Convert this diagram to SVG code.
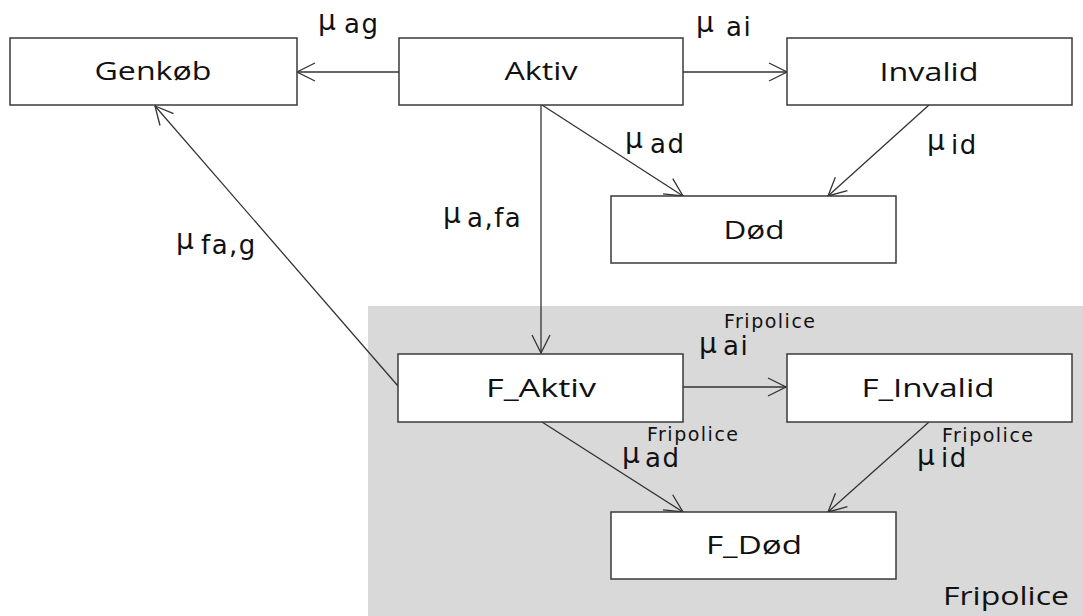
<svg xmlns="http://www.w3.org/2000/svg" width="1083" height="616" viewBox="0 0 1083 616">
<style>
.box{fill:#ffffff;stroke:#3a3a3a;stroke-width:1.5}
.lbl{font-family:"Open Sans","Liberation Sans",sans-serif;font-size:26px;fill:#111111;text-anchor:middle}
.corner{font-family:"Open Sans","Liberation Sans",sans-serif;font-size:26px;fill:#111111}
.rate{font-family:"DejaVu Sans","Liberation Sans",sans-serif;fill:#111111}
.m{font-size:28px}
.s{font-size:26px;letter-spacing:1.5px}
.p{font-size:19px;letter-spacing:1.5px}
.edge{fill:none;stroke:#333333;stroke-width:1.3;marker-end:url(#arr)}
</style>
<defs>
<marker id="arr" viewBox="0 0 20 20" refX="19" refY="10" markerWidth="20" markerHeight="20" markerUnits="userSpaceOnUse" orient="auto">
<path d="M1,1 L19,10 L1,19" fill="none" stroke="#333333" stroke-width="1.3"/>
</marker>
</defs>
<rect width="1083" height="616" fill="#ffffff"/>
<g id="fripolice-region">
<rect x="368" y="306" width="715" height="310" fill="#d9d9d9"/>
<text class="corner" x="943" y="605" textLength="126" lengthAdjust="spacingAndGlyphs">Fripolice</text>
</g>
<g id="connectors">
<path class="edge" d="M399,72 L297,72"/>
<path class="edge" d="M683,72 L787,72"/>
<path class="edge" d="M542,105 L683,196"/>
<path class="edge" d="M929,105 L828,196"/>
<path class="edge" d="M541,105 L541,353"/>
<path class="edge" d="M398,386 L155,106"/>
<path class="edge" d="M683,387 L786,387"/>
<path class="edge" d="M542,422 L683,512"/>
<path class="edge" d="M929,422 L828,512"/>
</g>
<g id="node-genkob">
<rect class="box" x="10" y="38" width="287" height="67"/>
<text class="lbl" x="153" y="80" textLength="117" lengthAdjust="spacingAndGlyphs">Genkøb</text>
</g>
<g id="node-aktiv">
<rect class="box" x="399" y="38" width="284" height="67"/>
<text class="lbl" x="541" y="80" textLength="73" lengthAdjust="spacingAndGlyphs">Aktiv</text>
</g>
<g id="node-invalid">
<rect class="box" x="787" y="38" width="285" height="67"/>
<text class="lbl" x="929" y="81" textLength="99" lengthAdjust="spacingAndGlyphs">Invalid</text>
</g>
<g id="node-dod">
<rect class="box" x="611" y="196" width="285" height="67"/>
<text class="lbl" x="754" y="239" textLength="61" lengthAdjust="spacingAndGlyphs">Død</text>
</g>
<g id="node-f-aktiv">
<rect class="box" x="398" y="354" width="285" height="68"/>
<text class="lbl" x="541" y="397" textLength="110" lengthAdjust="spacingAndGlyphs">F_Aktiv</text>
</g>
<g id="node-f-invalid">
<rect class="box" x="787" y="354" width="285" height="68"/>
<text class="lbl" x="928" y="397" textLength="133" lengthAdjust="spacingAndGlyphs">F_Invalid</text>
</g>
<g id="node-f-dod">
<rect class="box" x="611" y="512" width="285" height="67"/>
<text class="lbl" x="754" y="554" textLength="96" lengthAdjust="spacingAndGlyphs">F_Død</text>
</g>
<g id="labels">
<text class="rate"><tspan class="m" x="318" y="30">μ</tspan><tspan class="s" x="344" y="33">ag</tspan></text>
<text class="rate"><tspan class="m" x="696" y="32">μ</tspan><tspan class="s" x="726" y="36">ai</tspan></text>
<text class="rate"><tspan class="m" x="625" y="148">μ</tspan><tspan class="s" x="650" y="153">ad</tspan></text>
<text class="rate"><tspan class="m" x="927" y="150">μ</tspan><tspan class="s" x="951" y="154">id</tspan></text>
<text class="rate"><tspan class="m" x="443" y="223">μ</tspan><tspan class="s" x="467" y="227">a,fa</tspan></text>
<text class="rate"><tspan class="m" x="176" y="249">μ</tspan><tspan class="s" x="201" y="254">fa,g</tspan></text>
<text class="rate"><tspan class="p" x="724" y="328">Fripolice</tspan><tspan class="m" x="699" y="353">μ</tspan><tspan class="s" x="723" y="355">ai</tspan></text>
<text class="rate"><tspan class="p" x="647" y="441">Fripolice</tspan><tspan class="m" x="622" y="463">μ</tspan><tspan class="s" x="645" y="467">ad</tspan></text>
<text class="rate"><tspan class="p" x="942" y="442">Fripolice</tspan><tspan class="m" x="917" y="465">μ</tspan><tspan class="s" x="941" y="467">id</tspan></text>
</g>
</svg>
